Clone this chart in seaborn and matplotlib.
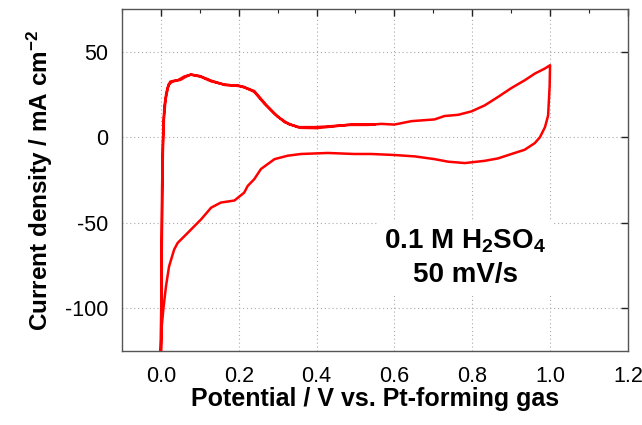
import matplotlib
matplotlib.use("Agg")
import matplotlib.pyplot as plt
from matplotlib.ticker import MultipleLocator
import numpy as np
import pandas as pd
import seaborn as sns

# Cyclic voltammogram, 0.1 M H2SO4, 50 mV/s
# First scan: anodic sweep
anodic_E = [0.0, 0.001, 0.002, 0.003, 0.005, 0.008, 0.012, 0.018, 0.024, 0.034,
            0.05, 0.065, 0.077, 0.09, 0.103, 0.129, 0.163, 0.197, 0.214, 0.24,
            0.266, 0.292, 0.318, 0.352, 0.395, 0.429, 0.48, 0.532, 0.566, 0.60,
            0.644, 0.703, 0.729, 0.764, 0.798, 0.832, 0.866, 0.901, 0.935, 0.961,
            0.987, 1.0]
anodic_j = [-125, -95, -60, -30, -5, 12, 22, 29, 32.5, 33,
            33.5, 35.5, 36.6, 36, 35.3, 32.7, 30.8, 30, 29.4, 26.5,
            19.6, 13.7, 8.8, 5.9, 5.9, 6.3, 7.2, 7.2, 7.8, 7.4,
            9.4, 10.4, 12.4, 13.1, 15.1, 18.6, 23.5, 28.8, 33.3, 37.2,
            40.2, 42.1]

# Cathodic sweep back to the lower vertex
cathodic_E = [1.0, 0.999, 0.995, 0.987, 0.974, 0.961, 0.935, 0.901, 0.866, 0.832,
              0.781, 0.738, 0.703, 0.652, 0.60, 0.541, 0.497, 0.429, 0.36, 0.326,
              0.292, 0.257, 0.24, 0.223, 0.214, 0.189, 0.154, 0.129, 0.103, 0.069,
              0.043, 0.034, 0.021, 0.013, 0.007, 0.002, 0.0]
cathodic_j = [42.1, 30, 12.7, 5.9, 0, -3.4, -7.3, -9.8, -12.4, -13.8,
              -15.1, -14.3, -12.8, -11.2, -10.4, -9.8, -9.8, -9.2, -9.8, -10.8,
              -12.8, -18.6, -24.5, -28.5, -32.4, -37.0, -38.2, -41.2, -48.1, -55.9,
              -61.8, -65.7, -75.5, -87.3, -99, -110.8, -125]

# Second scan: anodic sweep (nearly overlapping the first)
second_E = [0.0, 0.002, 0.004, 0.006, 0.009, 0.014, 0.02, 0.03, 0.045, 0.06,
            0.077, 0.1, 0.13, 0.165, 0.2, 0.24, 0.27, 0.3, 0.33, 0.36,
            0.4, 0.45, 0.5, 0.55]
second_j = [-125, -70, -25, 5, 18, 26, 31, 32.5, 33.5, 35.5,
            36.6, 35.8, 33, 30.5, 30.2, 27, 19, 12, 7.5, 5.5,
            5.3, 6.5, 7.6, 7.5]

xticks = [0.0, 0.2, 0.4, 0.6, 0.8, 1.0, 1.2]
xticklabels = ["0.0", "0.2", "0.4", "0.6", "0.8", "1.0", "1.2"]
yticks = [-100, -50, 0, 50]
yticklabels = ["-100", "-50", "0", "50"]

E = anodic_E + cathodic_E + second_E
j = anodic_j + cathodic_j + second_j
df = pd.DataFrame({"E": E, "j": j, "order": np.arange(len(E))})

sns.set_theme(style="white")
plt.rcParams.update({
    "font.family": ["Liberation Sans", "DejaVu Sans"],
    "mathtext.fontset": "custom",
    "mathtext.rm": "Liberation Sans:bold",
    "mathtext.bf": "Liberation Sans:bold",
    "mathtext.default": "bf",
    "axes.unicode_minus": False,
    "text.color": "black",
    "axes.labelcolor": "black",
    "xtick.color": "black",
    "ytick.color": "black",
})

fig = plt.figure(figsize=(6.42, 4.25), dpi=100)
ax = fig.add_axes([0.19, 0.174, 0.788, 0.805])

sns.lineplot(data=df, x="E", y="j", sort=False, estimator=None,
             color="#ff0000", linewidth=1.8, ax=ax, zorder=3)

ax.set_xlim(-0.1, 1.2)
ax.set_ylim(-125, 75)
ax.set_xticks(xticks)
ax.set_xticklabels(xticklabels)
ax.set_yticks(yticks)
ax.set_yticklabels(yticklabels)
ax.xaxis.set_minor_locator(MultipleLocator(0.1))

ax.grid(True, which="major", linestyle=(0, (1, 2.5)), color="#aaaaaa", linewidth=0.8)
ax.set_axisbelow(True)

for s in ax.spines.values():
    s.set_visible(True)
    s.set_color("#555555")
    s.set_linewidth(1.0)

ax.tick_params(which="both", direction="in", top=True, right=True,
               labelsize=15.5, labelcolor="black")
ax.tick_params(axis="x", pad=11)
ax.tick_params(axis="y", pad=10)
ax.tick_params(which="major", length=5, width=1, color="#222222")
ax.tick_params(which="minor", length=3, width=0.8, color="#222222")

ax.set_xlabel("Potential / V vs. Pt-forming gas", fontsize=18, fontweight="bold", labelpad=0)
ax.set_ylabel("Current density / mA cm$^{-2}$", fontsize=17.5, fontweight="bold", labelpad=7)

ax.text(0.782, -70.5, "0.1 M H$_2$SO$_4$\n50 mV/s", fontsize=20, fontweight="bold",
        ha="center", va="center", linespacing=1.35, zorder=4,
        bbox=dict(facecolor="white", edgecolor="none", pad=4))

fig.savefig("out.png", dpi=100)
